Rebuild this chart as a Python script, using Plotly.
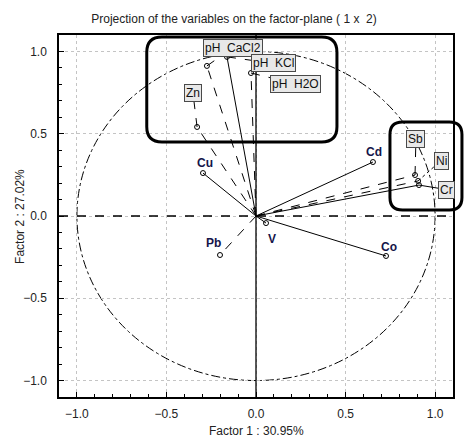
import plotly.graph_objects as go

# Variable loadings on factor 1 / factor 2
variables = ["pH CaCl2", "pH KCl", "pH H2O", "Zn", "Cu", "Cd", "Pb", "V", "Co", "Sb", "Ni", "Cr"]
factor1 = [-0.274, -0.162, -0.028, -0.329, -0.296, 0.653, -0.201, 0.056, 0.726, 0.888, 0.905, 0.910]
factor2 = [0.912, 0.967, 0.869, 0.541, 0.261, 0.328, -0.237, -0.043, -0.243, 0.249, 0.213, 0.188]

# Label anchor positions (factor-plane coordinates) and label style
label_x = [-0.128, 0.100, 0.223, -0.352, -0.285, 0.659, -0.240, 0.089, 0.743, 0.893, 1.033, 1.061]
label_y = [1.024, 0.927, 0.802, 0.748, 0.322, 0.389, -0.164, -0.140, -0.188, 0.465, 0.337, 0.161]
boxed = [True, True, True, True, False, False, False, False, False, True, True, True]
vector_dash = ["dash", "solid", "dash", "dash", "solid", "solid", "dash", "solid", "solid", "dash", "dash", "solid"]
leader_dash = ["dash", "dash", "dash", "dash", None, None, None, None, None, "dash", "dot", "solid"]

x_ticks = [-1.0, -0.5, 0.0, 0.5, 1.0]
y_ticks = [-1.0, -0.5, 0.0, 0.5, 1.0]
AX_RANGE = [-1.1, 1.1]

FONT = "Liberation Sans, Arial, sans-serif"

fig = go.Figure()

# vectors from the origin
for name, x, y, d in zip(variables, factor1, factor2, vector_dash):
    fig.add_trace(go.Scatter(x=[0, x], y=[0, y], mode="lines",
                             line=dict(color="black", width=1, dash=d),
                             hoverinfo="skip", showlegend=False))

# leader lines from point to boxed label
for x, y, lx, ly, ld in zip(factor1, factor2, label_x, label_y, leader_dash):
    if ld is None:
        continue
    fig.add_trace(go.Scatter(x=[x, lx], y=[y, ly], mode="lines",
                             line=dict(color="black", width=1, dash=ld),
                             hoverinfo="skip", showlegend=False))

# variable end points
fig.add_trace(go.Scatter(x=factor1, y=factor2, mode="markers",
                         marker=dict(symbol="circle-open", size=5, color="black",
                                     line=dict(width=1, color="black")),
                         text=variables, hoverinfo="text", showlegend=False))

# labels
for name, lx, ly, b in zip(variables, label_x, label_y, boxed):
    if b:
        fig.add_annotation(x=lx, y=ly, text=name.replace(" ", "&nbsp;&nbsp;"), showarrow=False,
                           font=dict(family=FONT, size=12, color="#111111"),
                           bgcolor="#e8e8e8", bordercolor="#4a4a4a", borderwidth=1,
                           borderpad=1)
    else:
        fig.add_annotation(x=lx, y=ly, text="<b>" + name + "</b>", showarrow=False,
                           font=dict(family=FONT, size=12, color="#15154a"))

# unit circle
fig.add_shape(type="circle", xref="x", yref="y", x0=-1, y0=-1, x1=1, y1=1,
              line=dict(color="black", width=1, dash="dashdot"), layer="below")

# zero axes through the origin
fig.add_shape(type="line", xref="paper", yref="y", x0=0, x1=1, y0=0, y1=0,
              line=dict(color="black", width=1.3, dash="dash"))
fig.add_shape(type="line", xref="x", yref="paper", x0=0, x1=0, y0=0, y1=1,
              line=dict(color="black", width=1.3))


def to_paper(v):
    return (v - AX_RANGE[0]) / (AX_RANGE[1] - AX_RANGE[0])


def rounded_box(x0, x1, y0, y1, r):
    # r given in axis units; converted separately per direction
    px0, px1, py0, py1 = to_paper(x0), to_paper(x1), to_paper(y0), to_paper(y1)
    rx = r / 2.2
    ry = r / 2.2 * (394 / 362)
    return (f"M {px0+rx},{py1} L {px1-rx},{py1} Q {px1},{py1} {px1},{py1-ry} "
            f"L {px1},{py0+ry} Q {px1},{py0} {px1-rx},{py0} "
            f"L {px0+rx},{py0} Q {px0},{py0} {px0},{py0+ry} "
            f"L {px0},{py1-ry} Q {px0},{py1} {px0+rx},{py1} Z")


# highlight groups
fig.add_shape(type="path", xref="paper", yref="paper",
              path=rounded_box(-0.61, 0.452, 0.45, 1.088, 0.085),
              line=dict(color="black", width=3))
fig.add_shape(type="path", xref="paper", yref="paper",
              path=rounded_box(0.748, 1.15, 0.036, 0.571, 0.07),
              line=dict(color="black", width=3))

axis_common = dict(
    range=AX_RANGE, showline=True, linecolor="black", linewidth=1.5, mirror=True,
    ticks="inside", ticklen=5, tickcolor="black", automargin=False,
    showgrid=True, gridcolor="#c4c4c4", griddash="dot", gridwidth=1,
    zeroline=False, tickformat=".1f",
    tickfont=dict(family=FONT, size=12, color="#222222"),
    minor=dict(dtick=0.1, ticks="inside", ticklen=3, tickcolor="black", showgrid=False),
)

fig.update_xaxes(**axis_common, tickvals=x_ticks, ticklabelstandoff=5)
fig.update_yaxes(**axis_common, tickvals=y_ticks, ticklabelstandoff=8)

# axis titles
fig.add_annotation(text="Factor 1 : 30.95%", xref="paper", yref="paper",
                   x=0.5, y=-0.118, showarrow=False,
                   font=dict(family=FONT, size=12, color="#222222"))
fig.add_annotation(text="Factor 2 : 27.02%", xref="paper", yref="paper",
                   x=-0.122, y=0.5, textangle=-90, showarrow=False,
                   font=dict(family=FONT, size=12, color="#222222"))

fig.update_layout(
    width=472, height=440,
    margin=dict(l=59, r=19, t=35, b=43),
    plot_bgcolor="white", paper_bgcolor="white",
    title=dict(text="Projection of the variables on the factor-plane ( 1 x  2)",
               x=234 / 472, xanchor="center", xref="container",
               y=1 - 19 / 440, yanchor="middle", yref="container",
               font=dict(family=FONT, size=12, color="#222222")),
)

fig.write_html("out.html")
